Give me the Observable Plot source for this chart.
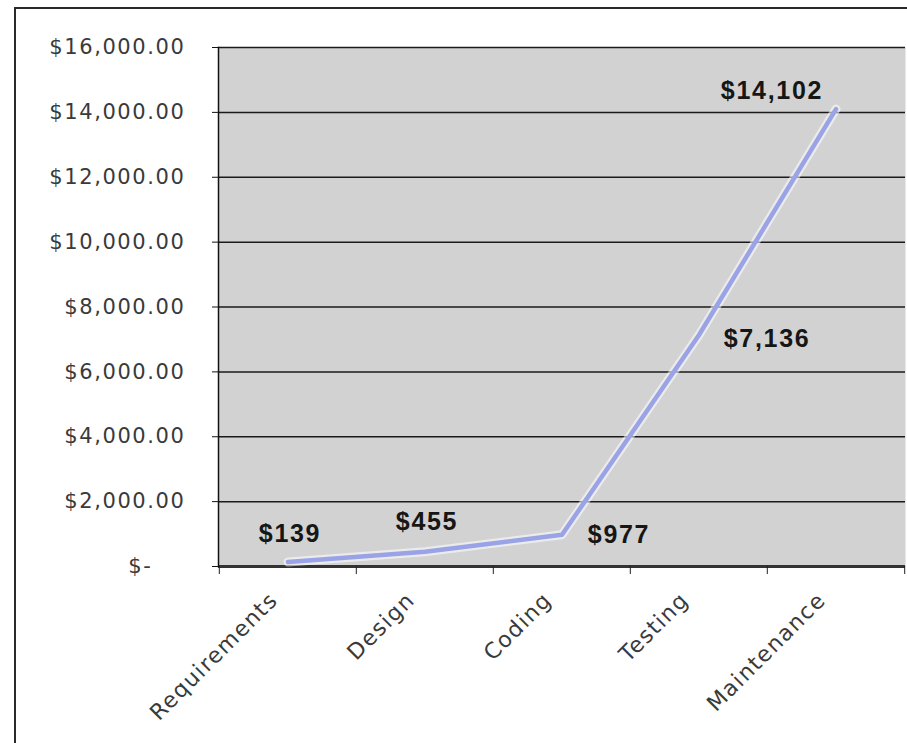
<!DOCTYPE html>
<html>
<head>
<meta charset="utf-8">
<script src="https://cdn.jsdelivr.net/npm/d3@7"></script>
<script src="https://cdn.jsdelivr.net/npm/@observablehq/plot@0.6"></script>
<style>
  html, body { margin: 0; padding: 0; background: #fff; }
  #wrap { position: relative; width: 907px; height: 743px; overflow: hidden; }
  #border { position: absolute; left: 14px; top: 7px; right: -4px; bottom: -4px;
            border-left: 2px solid #2a2a2a; border-top: 2px solid #2a2a2a; }
  #chart { position: absolute; left: 0; top: 0; }
  .ylab text { letter-spacing: 1.6px; }
  .xlab text { letter-spacing: 1.4px; }
  .vlab text { letter-spacing: 1.7px; }
</style>
</head>
<body>
<div id="wrap"><div id="border"></div><div id="chart"></div></div>
<script>
const phases = ["Requirements", "Design", "Coding", "Testing", "Maintenance"];
const costs = [139, 455, 977, 7136, 14102];
const costLabels = ["$139", "$455", "$977", "$7,136", "$14,102"];
const yTicks = [0, 2000, 4000, 6000, 8000, 10000, 12000, 14000, 16000];

const data = phases.map((p, i) => ({phase: p, cost: costs[i], label: costLabels[i]}));

const W = 907, H = 743, ML = 218, MR = 2, MT = 47, MB = 177;
const half = (W - ML - MR) / phases.length / 2;

const yFmt = d => d === 0 ? "$-\u00a0\u00a0\u00a0\u00a0" : "$" + d3.format(",.2f")(d);

// label offsets (px) relative to each point
const offsets = [
  {dx: 2, dy: -28}, {dx: 2, dy: -30}, {dx: 57, dy: 0}, {dx: 68, dy: 4}, {dx: -64, dy: -18}
];

const labelMarks = data.map((d, i) => Plot.text([d], {
  x: "phase", y: "cost", text: "label",
  dx: offsets[i].dx, dy: offsets[i].dy, className: "vlab",
  fontFamily: "Liberation Sans, Arial, sans-serif", fontWeight: "bold",
  fontSize: 25, fill: "#161616"
}));

const chart = Plot.plot({
  width: W, height: H,
  marginLeft: ML, marginRight: MR, marginTop: MT, marginBottom: MB,
  style: {background: "transparent", overflow: "visible"},
  x: {type: "band", domain: phases, padding: 0, axis: null, label: null},
  y: {domain: [0, 16000], axis: null, label: null},
  marks: [
    Plot.frame({fill: "#d2d2d2", stroke: null}),
    Plot.ruleY(yTicks, {stroke: "#1a1a1a", strokeWidth: 1.5}),
    Plot.ruleY([0], {stroke: "#333", strokeWidth: 3}),
    Plot.frame({anchor: "left", stroke: "#111", strokeWidth: 1.5}),
    Plot.axisY({ticks: yTicks, tickSize: 6, tickPadding: 27, tickFormat: yFmt, label: null,
      className: "ylab",
      fontSize: 21, fontFamily: "DejaVu Sans, Verdana, sans-serif", fill: "#3a3a3a", stroke: "#111"}),
    Plot.axisX({ticks: phases, tickSize: 8, tickFormat: () => "", label: null, dx: -half, stroke: "#222"}),
    Plot.axisX({ticks: [phases[phases.length - 1]], tickSize: 8, tickFormat: () => "", label: null, dx: half, stroke: "#222"}),
    Plot.axisX({ticks: phases, tickSize: 0, tickRotate: -45, tickPadding: 30, dx: -14, label: null,
      className: "xlab",
      fontSize: 22, fontFamily: "DejaVu Sans, Verdana, sans-serif", fill: "#3a3a3a"}),
    Plot.line(data, {x: "phase", y: "cost", stroke: "#ffffff", strokeOpacity: 0.55, strokeWidth: 9}),
    Plot.line(data, {x: "phase", y: "cost", stroke: "#99a3e6", strokeWidth: 4.5}),
    ...labelMarks
  ]
});
document.getElementById("chart").appendChild(chart);
</script>
</body>
</html>
